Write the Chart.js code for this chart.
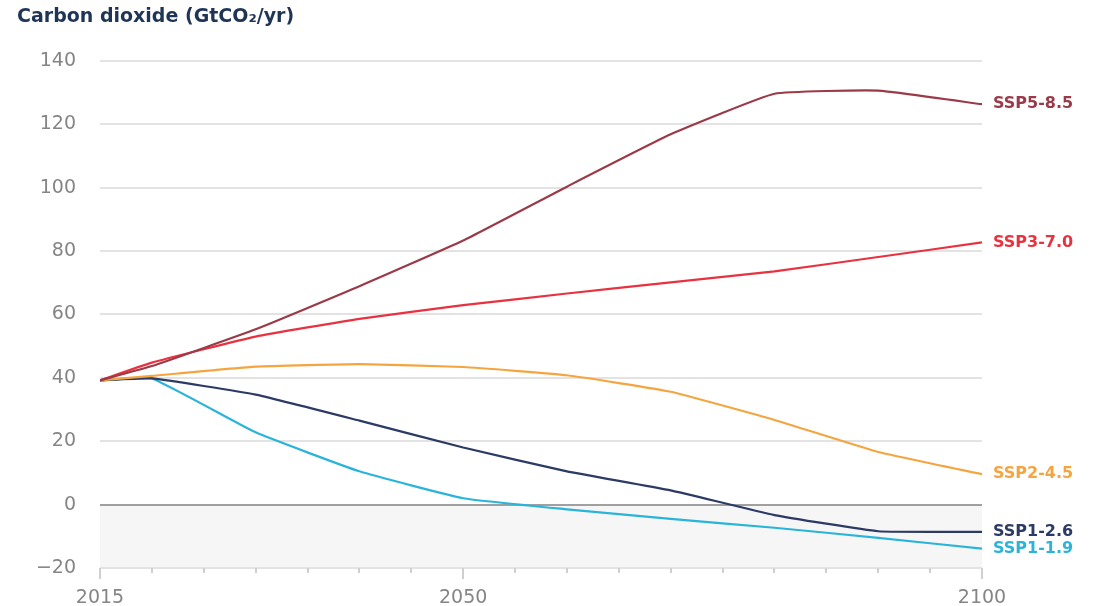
<!DOCTYPE html>
<html>
<head>
<meta charset="utf-8">
<title>Carbon dioxide emissions by SSP scenario</title>
<script src="https://cdn.jsdelivr.net/npm/chart.js@4/dist/chart.umd.min.js"></script>
<style>
  html, body { margin: 0; padding: 0; background: #fff; }
  #wrap { width: 1099px; height: 606px; }
</style>
</head>
<body>
<div id="wrap"><canvas id="chart"></canvas></div>
<script>
  // Years of the scenario data points
  const years = [2015, 2020, 2030, 2040, 2050, 2060, 2070, 2080, 2090, 2100];

  // CO2 emissions, GtCO2/yr
  const ssp585 = [39.2, 43.7, 55.3, 68.9, 83.3, 100.3, 116.8, 129.6, 130.6, 126.3];
  const ssp370 = [39.2, 44.8, 53.0, 58.6, 62.9, 66.6, 70.1, 73.6, 78.1, 82.7];
  const ssp245 = [39.2, 40.6, 43.5, 44.3, 43.4, 40.8, 35.6, 26.7, 16.6, 9.6];
  const ssp126 = [39.2, 39.8, 34.7, 26.5, 18.0, 10.5, 4.5, -3.3, -8.4, -8.6];
  const ssp119 = [39.2, 39.8, 22.8, 10.5, 2.0, -1.5, -4.5, -7.3, -10.5, -13.9];

  const scenarioNames = ['SSP5-8.5', 'SSP3-7.0', 'SSP2-4.5', 'SSP1-2.6', 'SSP1-1.9'];
  const scenarioColors = ['#9b3a48', '#e8323f', '#f5a540', '#2c3a66', '#2ab4da'];
  const labeledYears = [2015, 2050, 2100];

  const font = "'DejaVu Sans', sans-serif";

  function toPoints(values) {
    return values.map(function(v, i) { return { x: years[i], y: v }; });
  }

  // light shading below zero
  const negativeBand = {
    id: 'negativeBand',
    beforeDraw: function(chart) {
      const y = chart.scales.y;
      const area = chart.chartArea;
      const top = y.getPixelForValue(0);
      const ctx = chart.ctx;
      ctx.save();
      ctx.fillStyle = '#f6f6f6';
      ctx.fillRect(area.left, top, area.right - area.left, area.bottom - top);
      ctx.restore();
    }
  };

  // tick marks on the year axis: short every 5 years, longer on labelled years
  const yearTicks = {
    id: 'yearTicks',
    afterDraw: function(chart) {
      const x = chart.scales.x;
      const bottom = chart.chartArea.bottom;
      const ctx = chart.ctx;
      ctx.save();
      ctx.strokeStyle = '#cfcfcf';
      ctx.lineWidth = 2;
      for (let yr = 2015; yr <= 2100; yr += 5) {
        const px = Math.round(x.getPixelForValue(yr));
        const len = labeledYears.indexOf(yr) >= 0 ? 11 : 5;
        ctx.beginPath();
        ctx.moveTo(px, bottom);
        ctx.lineTo(px, bottom + len);
        ctx.stroke();
      }
      ctx.restore();
    }
  };

  // scenario names at the end of each line
  const endLabels = {
    id: 'endLabels',
    afterDatasetsDraw: function(chart) {
      const ctx = chart.ctx;
      ctx.save();
      ctx.font = 'bold 16px ' + font;
      ctx.textAlign = 'left';
      ctx.textBaseline = 'middle';
      chart.data.datasets.forEach(function(ds, i) {
        const pts = chart.getDatasetMeta(i).data;
        const last = pts[pts.length - 1];
        ctx.fillStyle = ds.borderColor;
        ctx.fillText(ds.label, last.x + 11, last.y);
      });
      ctx.restore();
    }
  };

  const seriesValues = [ssp585, ssp370, ssp245, ssp126, ssp119];

  new Chart(document.getElementById('chart'), {
    type: 'line',
    data: {
      datasets: seriesValues.map(function(vals, i) {
        return {
          label: scenarioNames[i],
          data: toPoints(vals),
          borderColor: scenarioColors[i],
          backgroundColor: scenarioColors[i],
          borderWidth: 2.2,
          pointRadius: 0,
          tension: 0.12,
          fill: false
        };
      })
    },
    options: {
      responsive: true,
      maintainAspectRatio: false,
      animation: false,
      layout: { padding: { left: 17, right: 117, top: 0, bottom: 0 } },
      plugins: {
        legend: { display: false },
        tooltip: { enabled: false },
        title: {
          display: true,
          text: 'Carbon dioxide (GtCO₂/yr)',
          align: 'start',
          color: '#1f3556',
          font: { family: font, size: 19, weight: 'bold' },
          padding: { top: 6, bottom: 32 }
        }
      },
      scales: {
        x: {
          type: 'linear',
          min: 2015,
          max: 2100,
          grid: { display: false },
          border: { display: false },
          afterFit: function(scale) { scale.height = 38; },
          ticks: {
            stepSize: 5,
            autoSkip: false,
            maxRotation: 0,
            padding: 11,
            color: '#858585',
            font: { family: font, size: 19 },
            callback: function(v) { return labeledYears.indexOf(v) >= 0 ? String(v) : ''; }
          }
        },
        y: {
          min: -20,
          max: 140,
          border: { display: false },
          afterFit: function(scale) { scale.width = 83; },
          grid: {
            drawTicks: false,
            color: function(c) { return c.tick && c.tick.value === 0 ? '#a0a0a0' : '#e3e3e3'; },
            lineWidth: 2
          },
          ticks: {
            stepSize: 20,
            padding: 24,
            color: '#858585',
            font: { family: font, size: 19 },
            callback: function(v) { return v < 0 ? '\u2212' + Math.abs(v) : String(v); }
          }
        }
      }
    },
    plugins: [negativeBand, yearTicks, endLabels]
  });
</script>
</body>
</html>
